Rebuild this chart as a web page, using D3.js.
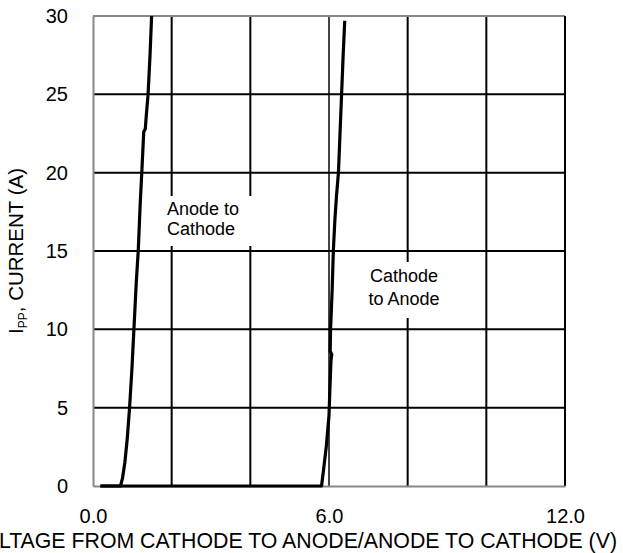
<!DOCTYPE html>
<html>
<head>
<meta charset="utf-8">
<script src="https://cdn.jsdelivr.net/npm/d3@7"></script>
<style>
  body { margin: 0; background: #fff; }
  text { font-family: "Liberation Sans", Arial, sans-serif; fill: #000; }
</style>
</head>
<body>
<div id="chart"></div>
<script>
// Values (volts, amps).
const anodeV = [0.19, 0.70, 0.75, 0.81, 0.87, 0.93, 0.99, 1.04, 1.10, 1.15, 1.20, 1.24, 1.29, 1.33, 1.35, 1.40, 1.45, 1.49];
const anodeI = [0, 0, 0.5, 1.5, 3, 5, 7.5, 10, 13, 15, 18, 20, 22.6, 22.8, 23.5, 25, 27.5, 30];

const cathodeV = [0.19, 5.81, 5.86, 5.93, 6.00, 6.02, 6.05, 6.07, 6.03, 6.04, 6.08, 6.11, 6.15, 6.19, 6.24, 6.28, 6.32, 6.36, 6.40];
const cathodeI = [0, 0, 1, 2.5, 4.5, 6, 8, 8.4, 8.6, 10, 12.5, 15, 17, 18.5, 20, 22.5, 25, 27.5, 29.7];

const xTicks = [0, 6, 12];
const xGrid = [2, 4, 6, 8, 10];
const yTicks = [0, 5, 10, 15, 20, 25, 30];

// Plot box
let margin = { top: 16, right: 58, bottom: 67, left: 93 },
    width = 623 - margin.left - margin.right,
    height = 553 - margin.top - margin.bottom;

let svg = d3.select("#chart").append("svg")
    .attr("width", 623)
    .attr("height", 553)
    .append("g")
    .attr("transform", "translate(" + margin.left + "," + margin.top + ")");

let x = d3.scaleLinear().domain([0, 12]).range([0, width]);
let y = d3.scaleLinear().domain([0, 30]).range([height, 0]);

// Grid lines
svg.append("g").selectAll("line")
    .data(xGrid)
    .join("line")
    .attr("x1", d => x(d)).attr("x2", d => x(d))
    .attr("y1", 0).attr("y2", height)
    .style("stroke", d => d === 6 ? "#444" : "#000")
    .style("stroke-width", "2px");

svg.append("g").selectAll("line")
    .data(yTicks.filter(d => d > 0 && d < 30))
    .join("line")
    .attr("x1", 0).attr("x2", width)
    .attr("y1", d => y(d)).attr("y2", d => y(d))
    .style("stroke", "#000")
    .style("stroke-width", "2px");

// Frame: top grey, right black
svg.append("line")
    .attr("x1", 0).attr("x2", width).attr("y1", y(30)).attr("y2", y(30))
    .style("stroke", "#888").style("stroke-width", "2px");
svg.append("line")
    .attr("x1", x(12)).attr("x2", x(12)).attr("y1", 0).attr("y2", height)
    .style("stroke", "#000").style("stroke-width", "2px");

// Axes
let yAxis = d3.axisLeft(y).tickValues(yTicks).tickSize(0).tickPadding(25);
let xAxis = d3.axisBottom(x).tickValues(xTicks).tickFormat(d3.format(".1f")).tickSize(0).tickPadding(23);

let yAxisEl = svg.append("g").call(yAxis);
let xAxisEl = svg.append("g").attr("transform", "translate(0," + height + ")").call(xAxis);

[yAxisEl, xAxisEl].forEach(g => {
    g.select(".domain").style("stroke", "#888").style("stroke-width", "2px");
    g.selectAll("text").style("font-size", "20px");
});

// Axis titles (the long x title runs off the left edge, as in the original)
svg.append("text")
    .attr("x", 617 - margin.left)
    .attr("y", 548 - margin.top)
    .attr("text-anchor", "end")
    .style("font-size", "21.3px")
    .text("VOLTAGE FROM CATHODE TO ANODE/ANODE TO CATHODE (V)");

let yTitle = svg.append("text")
    .attr("transform", "translate(" + (23 - margin.left) + "," + (251 - margin.top) + ") rotate(-90)")
    .attr("text-anchor", "middle")
    .style("font-size", "20.5px");
yTitle.append("tspan").text("I");
yTitle.append("tspan").attr("dy", 4).style("font-size", "12px").text("PP");
yTitle.append("tspan").attr("dy", -4).text(", CURRENT (A)");

// Label boxes (white behind text, over the grid)
const labels = [
    { lines: ["Anode to", "Cathode"], x: 167, y: [215, 235], anchor: "start", box: [158, 196, 98, 50] },
    { lines: ["Cathode", "to Anode"], x: 404, y: [282, 305], anchor: "middle", box: [358, 262, 94, 56] }
];

labels.forEach(l => {
    svg.append("rect")
        .attr("x", l.box[0] - margin.left)
        .attr("y", l.box[1] - margin.top)
        .attr("width", l.box[2])
        .attr("height", l.box[3])
        .style("fill", "#fff");
    l.lines.forEach((t, i) => {
        svg.append("text")
            .attr("x", l.x - margin.left)
            .attr("y", l.y[i] - margin.top)
            .attr("text-anchor", l.anchor)
            .style("font-size", "18px")
            .text(t);
    });
});

// Curves
let line = d3.line()
    .x(d => x(d[0]))
    .y(d => y(d[1]));

[[anodeV, anodeI], [cathodeV, cathodeI]].forEach(s => {
    svg.append("path")
        .datum(d3.zip(s[0], s[1]))
        .attr("d", line)
        .style("fill", "none")
        .style("stroke", "#000")
        .style("stroke-width", "3.2px")
        .style("stroke-linejoin", "round");
});
</script>
</body>
</html>
